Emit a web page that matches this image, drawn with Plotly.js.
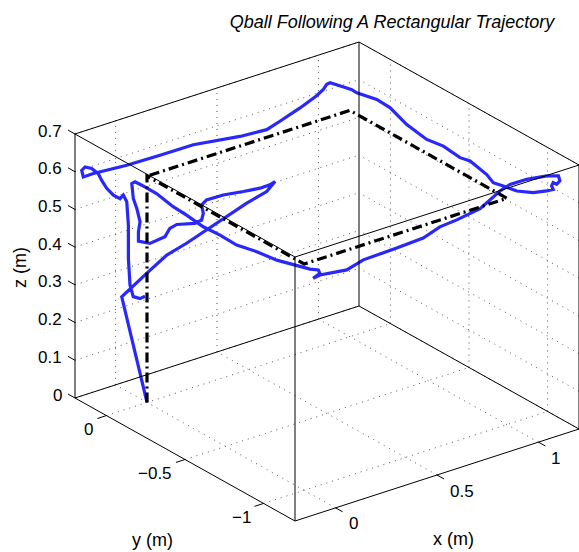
<!DOCTYPE html>
<html>
<head>
<meta charset="utf-8">
<script src="https://cdn.plot.ly/plotly-3.0.1.min.js"></script>
<style>
html,body{margin:0;padding:0;background:#fff;}
#chart{width:579px;height:552px;}
</style>
</head>
<body>
<div id="chart"></div>
<script>
// ---------------- data ----------------
// Reference (desired) rectangular trajectory
var refX = [0, 0, 0, 1, 1, 0];
var refY = [0, 0, -1, -1, 0, 0];
var refZ = [0, 0.6, 0.6, 0.6, 0.6, 0.6];

var actualX = [0, -0.047, 0.088, 0.169, 0.212, 0.265, 0.318, 0.371, 0.414, 0.433,
  0.398, 0.370, 0.299, 0.217, 0.137, 0.114, 0.115, 0.115, 0.096, 0.034,
  0.011, -0.009, -0.051, -0.074, -0.064, -0.066, -0.065, -0.083, -0.089, -0.069,
  -0.067, -0.048, -0.046, -0.047, -0.052, -0.065, -0.059, -0.063, -0.037, -0.022,
  0.003, 0.032, 0.053, 0.039, 0.011, 0.030, 0.142, 0.250, 0.420, 0.559,
  0.673, 0.765, 0.900, 1.019, 1.045, 1.083, 1.123, 1.138, 1.136, 1.107,
  1.105, 1.103, 1.089, 1.060, 1.029, 1.008, 0.994, 1.002, 1.0, 1.0,
  1.0, 1.0, 1.0, 1.0, 1.0, 1.0, 1.0, 1.0, 1.0, 0.965,
  0.941, 0.925, 0.908, 0.875, 0.793, 0.694, 0.629, 0.497, 0.267, 0.103,
  -0.061, -0.18, -0.18, -0.18, -0.18, -0.18, -0.18, -0.18, -0.160, -0.127,
  -0.094, -0.078, -0.061, -0.053, -0.053, -0.045, -0.029, 0.004, 0.029];
var actualY = [0, 0.10, 0.116, 0.092, 0.022, -0.038, -0.097, -0.156, -0.227, -0.256,
  -0.268, -0.242, -0.227, -0.205, -0.202, -0.200, -0.210, -0.199, -0.180, -0.146,
  -0.131, -0.126, -0.084, -0.041, -0.028, -0.041, -0.019, -0.020, -0.018, -0.013,
  -0.053, -0.081, -0.120, -0.227, -0.319, -0.442, -0.541, -0.652, -0.746, -0.854,
  -0.928, -0.996, -1.022, -1.050, -1.043, -1.062, -1.088, -1.054, -1.047, -1.036,
  -0.995, -0.984, -0.958, -0.931, -0.961, -1.018, -1.095, -1.149, -1.161, -1.178,
  -1.158, -1.151, -1.179, -1.176, -1.129, -1.052, -0.984, -0.910, -0.871, -0.765,
  -0.701, -0.595, -0.489, -0.362, -0.255, -0.171, -0.044, -0.012, 0.020, 0.05,
  0.05, 0.05, 0.05, 0.05, 0.05, 0.05, 0.05, 0.05, 0.05, 0.05,
  0.05, 0.109, 0.173, 0.183, 0.162, 0.120, 0.078, 0.056, 0.05, 0.05,
  0.05, 0.05, 0.05, 0.05, 0.05, 0.05, 0.05, 0.05, 0.05];
var actualZ = [0, 0.265, 0.30, 0.34, 0.38, 0.42, 0.46, 0.50, 0.54, 0.57,
  0.57, 0.56, 0.56, 0.56, 0.56, 0.55, 0.53, 0.51, 0.50, 0.50,
  0.49, 0.47, 0.45, 0.45, 0.47, 0.50, 0.53, 0.56, 0.60, 0.60,
  0.60, 0.59, 0.59, 0.58, 0.58, 0.58, 0.58, 0.58, 0.58, 0.58,
  0.58, 0.58, 0.58, 0.58, 0.57, 0.58, 0.58, 0.58, 0.58, 0.58,
  0.58, 0.58, 0.58, 0.60, 0.62, 0.64, 0.66, 0.67, 0.66, 0.66,
  0.66, 0.65, 0.65, 0.65, 0.64, 0.63, 0.63, 0.62, 0.633, 0.644,
  0.638, 0.644, 0.637, 0.647, 0.667, 0.669, 0.657, 0.658, 0.655, 0.663,
  0.672, 0.671, 0.660, 0.649, 0.631, 0.613, 0.602, 0.607, 0.625, 0.626,
  0.628, 0.613, 0.589, 0.604, 0.618, 0.624, 0.620, 0.607, 0.584, 0.560,
  0.545, 0.552, 0.531, 0.467, 0.379, 0.307, 0.274, 0.263, 0.265];

var xRange = [-0.2, 1.2];
var yRange = [-1.2, 0.2];
var zRange = [0, 0.7];
var xTicks = [0, 0.5, 1];
var yTicks = [-1, -0.5, 0];
var zTicks = [0, 0.1, 0.2, 0.3, 0.4, 0.5, 0.6, 0.7];
var xTickText = ['0', '0.5', '1'];
var yTickText = ['\u22121', '\u22120.5', '0'];
var zTickText = ['0', '0.1', '0.2', '0.3', '0.4', '0.5', '0.6', '0.7'];

// ---------------- orthographic view (MATLAB-like 3-D box) ----------------
// screen position of the box corner (xmin, ymin, zmin) and the projected
// directions of the three box edges (screen units of the hidden 2-D axes)
var view = {o: [295, 521], ex: [284, -92], ey: [-220, -123], ez: [0, -264]};

function proj(x, y, z) {
  var X = (x - xRange[0]) / (xRange[1] - xRange[0]);
  var Y = (y - yRange[0]) / (yRange[1] - yRange[0]);
  var Z = (z - zRange[0]) / (zRange[1] - zRange[0]);
  return [view.o[0] + X * view.ex[0] + Y * view.ey[0] + Z * view.ez[0],
          view.o[1] + X * view.ex[1] + Y * view.ey[1] + Z * view.ez[1]];
}
function projLine(xs, ys, zs) {
  var u = [], v = [];
  for (var i = 0; i < xs.length; i++) {
    if (xs[i] === null) { u.push(null); v.push(null); continue; }
    var p = proj(xs[i], ys[i], zs[i]);
    u.push(p[0]); v.push(p[1]);
  }
  return {u: u, v: v};
}
// collect segments (3-D endpoints) into one null-separated polyline
function Segs() { this.x = []; this.y = []; this.z = []; }
Segs.prototype.add = function (a, b) {
  this.x.push(a[0], b[0], null); this.y.push(a[1], b[1], null); this.z.push(a[2], b[2], null);
};

var x0 = xRange[0], x1 = xRange[1], y0 = yRange[0], y1 = yRange[1], z0 = zRange[0], z1 = zRange[1];

// grid on the three back planes: floor z=z0, wall y=y1, wall x=x1
var grid = new Segs();
xTicks.forEach(function (t) {
  grid.add([t, y0, z0], [t, y1, z0]);
  grid.add([t, y1, z0], [t, y1, z1]);
});
yTicks.forEach(function (t) {
  grid.add([x0, t, z0], [x1, t, z0]);
  grid.add([x1, t, z0], [x1, t, z1]);
});
zTicks.forEach(function (t) {
  grid.add([x0, y1, t], [x1, y1, t]);
  grid.add([x1, y0, t], [x1, y1, t]);
});

// the 12 box edges
var box = new Segs();
[[y0, z0], [y1, z0], [y0, z1], [y1, z1]].forEach(function (c) { box.add([x0, c[0], c[1]], [x1, c[0], c[1]]); });
[[x0, z0], [x1, z0], [x0, z1], [x1, z1]].forEach(function (c) { box.add([c[0], y0, c[1]], [c[0], y1, c[1]]); });
[[x0, y0], [x1, y0], [x0, y1], [x1, y1]].forEach(function (c) { box.add([c[0], c[1], z0], [c[0], c[1], z1]); });

// tick marks (pointing out of the box)
var tk = new Segs();
var tl = 0.032;
xTicks.forEach(function (t) { tk.add([t, y0, z0], [t, y0 - tl * (y1 - y0), z0]); });
yTicks.forEach(function (t) { tk.add([x0, t, z0], [x0 - tl * (x1 - x0), t, z0]); });
zTicks.forEach(function (t) { tk.add([x0, y1, t], [x0, y1 + tl * (y1 - y0), t]); });

var font = 'Liberation Sans, Arial, Helvetica, sans-serif';
var annotations = [];
function lab(p, text, dx, dy, xanchor) {
  annotations.push({x: p[0] + dx, y: p[1] + dy, xref: 'x', yref: 'y', text: text,
    showarrow: false, xanchor: xanchor, yanchor: 'middle',
    font: {family: font, size: 17, color: '#000'}});
}
xTicks.forEach(function (t, i) { lab(proj(t, y0, z0), xTickText[i], 11, 16, 'left'); });
yTicks.forEach(function (t, i) { lab(proj(x0, t, z0), yTickText[i], -11, 14, 'right'); });
zTicks.forEach(function (t, i) { lab(proj(x0, y1, t), zTickText[i], -11, -3, 'right'); });

// axis titles
annotations.push({x: 453, y: 539, xref: 'x', yref: 'y', text: 'x (m)', showarrow: false,
  xanchor: 'center', yanchor: 'middle', font: {family: font, size: 18, color: '#000'}});
annotations.push({x: 152, y: 540, xref: 'x', yref: 'y', text: 'y (m)', showarrow: false,
  xanchor: 'center', yanchor: 'middle', font: {family: font, size: 18, color: '#000'}});
annotations.push({x: 20, y: 268, xref: 'x', yref: 'y', text: 'z (m)', showarrow: false, textangle: -90,
  xanchor: 'center', yanchor: 'middle', font: {family: font, size: 18, color: '#000'}});

var g = projLine(grid.x, grid.y, grid.z);
var b = projLine(box.x, box.y, box.z);
var k = projLine(tk.x, tk.y, tk.z);
var act = projLine(actualX, actualY, actualZ);
var ref = projLine(refX, refY, refZ);

var traces = [
  {type: 'scatter', mode: 'lines', x: g.u, y: g.v, line: {color: '#555', width: 1, dash: '1px,5px'},
   hoverinfo: 'skip', showlegend: false, connectgaps: false},
  {type: 'scatter', mode: 'lines', x: act.u, y: act.v, line: {color: 'rgb(40,40,250)', width: 3.2},
   hoverinfo: 'skip', showlegend: false},
  {type: 'scatter', mode: 'lines', x: ref.u, y: ref.v, line: {color: '#000', width: 3.2, dash: '10px,4px,2px,4px'},
   hoverinfo: 'skip', showlegend: false},
  {type: 'scatter', mode: 'lines', x: b.u, y: b.v, line: {color: '#000', width: 1},
   hoverinfo: 'skip', showlegend: false, connectgaps: false},
  {type: 'scatter', mode: 'lines', x: k.u, y: k.v, line: {color: '#000', width: 1},
   hoverinfo: 'skip', showlegend: false, connectgaps: false}
];

var layout = {
  width: 579, height: 552,
  paper_bgcolor: '#fff', plot_bgcolor: '#fff',
  margin: {l: 0, r: 0, t: 0, b: 0},
  title: {text: '<i>Qball Following A Rectangular Trajectory</i>',
          font: {family: font, size: 18, color: '#000'},
          x: 0.677, xanchor: 'center', xref: 'paper',
          y: 1 - 22 / 552, yanchor: 'middle', yref: 'container'},
  xaxis: {range: [0, 579], visible: false, fixedrange: true},
  yaxis: {range: [552, 0], visible: false, fixedrange: true},
  annotations: annotations,
  showlegend: false
};

Plotly.newPlot('chart', traces, layout, {displayModeBar: false, staticPlot: true});
</script>
</body>
</html>
